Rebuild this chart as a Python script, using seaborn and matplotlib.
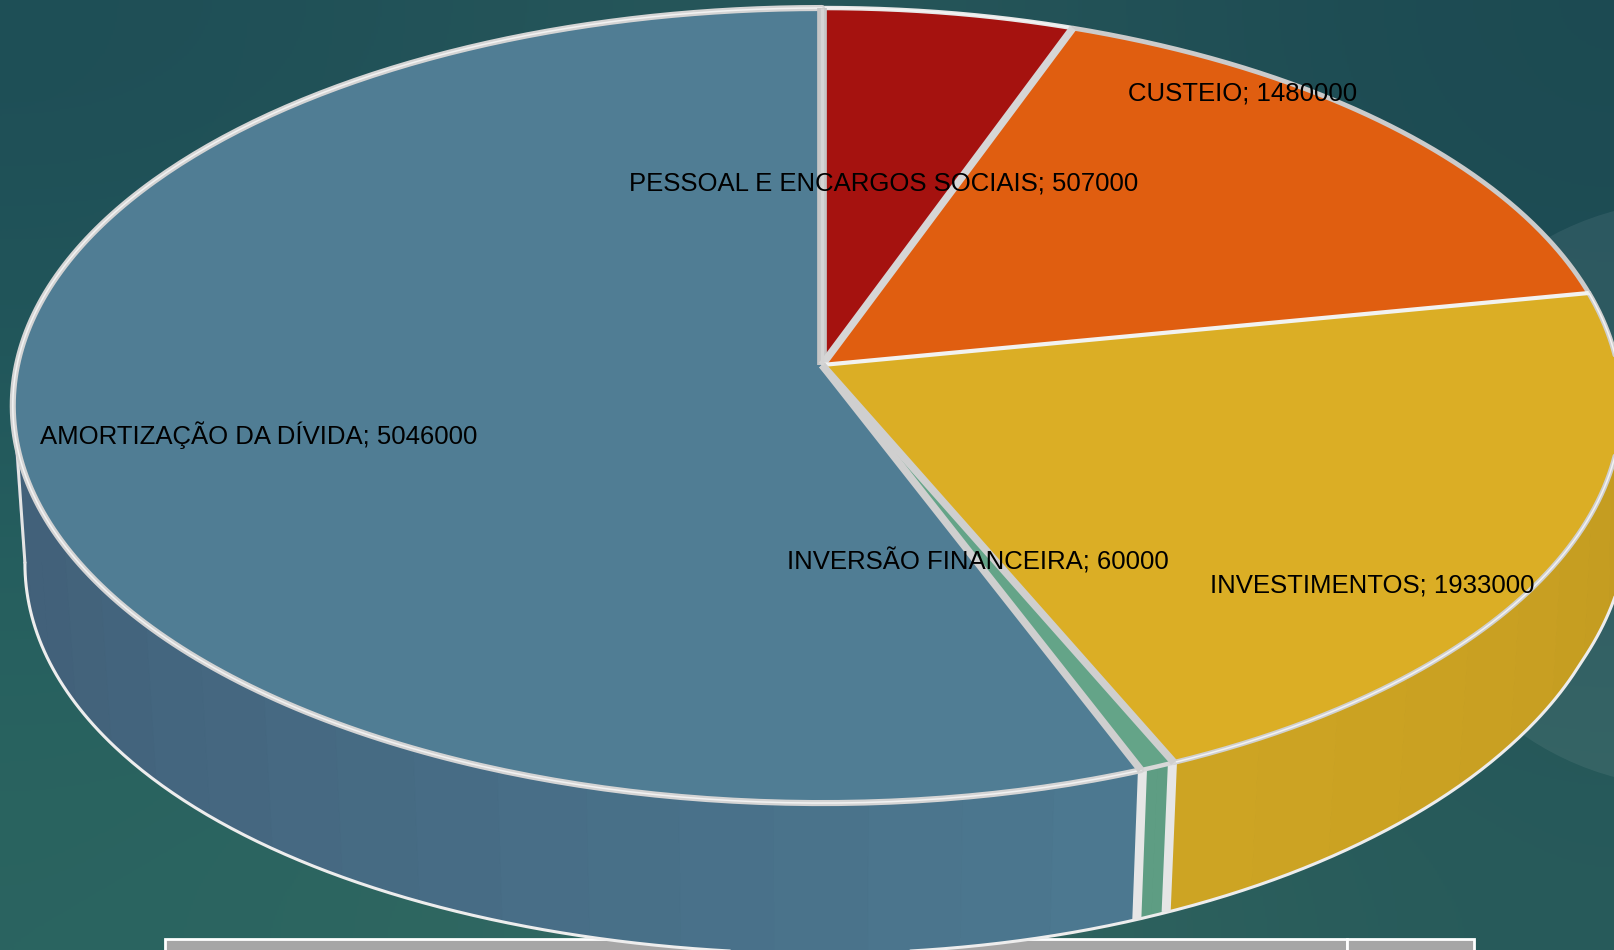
import numpy as np
import matplotlib
matplotlib.use("Agg")
import matplotlib.pyplot as plt
from matplotlib.colors import to_rgb
from matplotlib.patches import Circle, Rectangle
import seaborn as sns

categories = ["PESSOAL E ENCARGOS SOCIAIS", "CUSTEIO", "INVESTIMENTOS", "INVERSÃO FINANCEIRA", "AMORTIZAÇÃO DA DÍVIDA"]
values = [507000, 1480000, 1933000, 60000, 5046000]
top_colors = ["#A5120F", "#E05E10", "#DBAE25", "#64A488", "#507D94"]
wall_near = ["#A5120F", "#E05E10", "#C09820", "#5E9D83", "#4C7890"]
wall_far = ["#A5120F", "#E05E10", "#CEA423", "#5E9D83", "#42617A"]
label_x = [629, 1128, 1210, 787, 40]
label_y = [183, 94, 585, 561, 435]

sns.set_theme(style="white")
plt.rcParams["font.family"] = ["Liberation Sans", "DejaVu Sans"]
palette = sns.color_palette(top_colors)

fig = plt.figure(figsize=(16.14, 9.5), dpi=100)
ax = fig.add_axes([0, 0, 1, 1])
ax.set_xlim(0, 1614)
ax.set_ylim(950, 0)
ax.axis("off")

bg = np.array([[to_rgb(c) for c in row] for row in [
    ["#1E4E56", "#2A5A5C", "#1C4A52"],
    ["#235C5E", "#2C6260", "#205058"],
    ["#2A6460", "#376C63", "#275A5A"],
]])
ax.imshow(bg, extent=(0, 1614, 950, 0), interpolation="bicubic", aspect="auto", zorder=0)
ax.add_patch(Circle((1690, 494), 293, color="white", alpha=0.07, lw=0, zorder=1))
ax.add_patch(Rectangle((165, 939), 1182, 30, fc="#A6A6A6", ec="white", lw=2, zorder=2))
ax.add_patch(Rectangle((1347, 939), 127, 30, fc="#A6A6A6", ec="white", lw=2, zorder=2))

CX, CY, K = 822.0, 365.0, 0.102
A, C = 393.4, 805.0
H, S = 141.0, 0.985


def top(theta):
    X, Y = np.sin(theta), np.cos(theta)
    w = 1 + K * Y
    f = np.interp(np.degrees(theta), [0, 20, 157, 180], [1, .988, .988, 1])
    return CX + C * f * X / w, CY - A * Y / w


def bottom(theta):
    X, Y = np.sin(theta), np.cos(theta)
    w = 1 + K * Y
    f = np.interp(np.degrees(theta), [0, 79, 90, 100, 112, 125, 140, 157, 180],
                  [1, .985, 1.01, 1.005, .993, .989, .986, .985, 1])
    drop = H + 16 * np.where(X < 0, X ** 2, 0.0)
    return CX + S * C * f * X / w, CY + (drop - S * A * Y) / w


fractions = np.array(values) / np.sum(values)
edges = 2 * np.pi * np.concatenate([[0], np.cumsum(fractions)])

# side wall, faceted
for i, (t0, t1) in enumerate(zip(edges[:-1], edges[1:])):
    n = max(2, int((t1 - t0) / np.radians(6)))
    grid = np.linspace(t0, t1, n + 1)
    cn, cf = np.array(to_rgb(wall_near[i])), np.array(to_rgb(wall_far[i]))
    for j in range(n):
        th = np.linspace(grid[j], grid[j + 1], 6)
        xt, yt = top(th)
        xb, yb = bottom(th)
        m = (j + 0.5) / n
        if i == 4:
            m = min(1.0, (grid[j] - t0) / np.radians(85))
        col = cn * (1 - m) + cf * m
        ax.fill(np.r_[xt, xb[::-1]], np.r_[yt, yb[::-1]], color=col, lw=0.8, zorder=3)

# lower outline, left silhouette and wall seams
full = np.linspace(np.pi, 2 * np.pi, 800)
xt_f, yt_f = top(full)
xb_f, yb_f = bottom(full)
it, ib = np.argmin(xt_f), np.argmin(xb_f)
th = np.linspace(np.radians(97), full[ib], 400)
xb, yb = bottom(th)
ax.plot(xb, yb, color="#EDEDED", lw=2.2, zorder=4)
ax.fill([xt_f[it], xb_f[ib], xb_f[ib] + 40, xt_f[it] + 40], [yt_f[it], yb_f[ib], yb_f[ib], yt_f[it]],
        color=wall_far[4], lw=0, zorder=3)
ax.plot([xt_f[it] + 1, xb_f[ib]], [yt_f[it], yb_f[ib]], color="#E4E4E4", lw=2.2, zorder=4)
for e, off in [(edges[3], -1), (edges[4], 1)]:
    xa, ya = top(e)
    xc, yc = bottom(e)
    ax.plot([xa + off * 1.5, xc + off * 1.5], [ya, yc], color="#E6E6E6", lw=6.5, zorder=4, solid_capstyle="butt")

# top disc
for i, (t0, t1) in enumerate(zip(edges[:-1], edges[1:])):
    th = np.linspace(t0, t1, 240)
    x, y = top(th)
    ax.fill(np.r_[CX, x], np.r_[CY, y], color=palette[i], lw=0, zorder=5)

# rim bevels
rim_cols = ["#E8E8E8", "#CBCBCB", "#D0D0D0", "#D8D8D8", "#D4D4D4"]
rim_w = [3.2, 3.4, 3.6, 3.2, 4.4]
rim_core = [True, False, True, False, True]
for i, (t0, t1) in enumerate(zip(edges[:-1], edges[1:])):
    th = np.linspace(t0, t1, 240)
    x, y = top(th)
    ax.plot(x, y, color=rim_cols[i], lw=rim_w[i], zorder=6, solid_capstyle="round")
    if rim_core[i]:
        ax.plot(x, y, color="#F2F2F2", lw=1.1, zorder=6)

# radial bevels
rad_w = [7.0, 5.4, 3.0, 5.4, 5.4]
rad_c = ["#C6C6C6", "#D6D6D6", "#F2F2F0", "#CFCFCF", "#CFCFCF"]
for e, w, c in zip(edges[:-1], rad_w, rad_c):
    x, y = top(e)
    ax.plot([CX, x], [CY, y], color=c, lw=w, zorder=7, solid_capstyle="butt")
x, y = top(edges[0])
ax.plot([CX, x], [CY, y], color="#D4D4D4", lw=2.4, zorder=7, solid_capstyle="butt")

for name, v, lx, ly in zip(categories, values, label_x, label_y):
    ax.text(lx, ly, f"{name}; {v}", color="black", fontsize=18.5, ha="left", va="center", zorder=10)

fig.savefig("out.png", dpi=100)
